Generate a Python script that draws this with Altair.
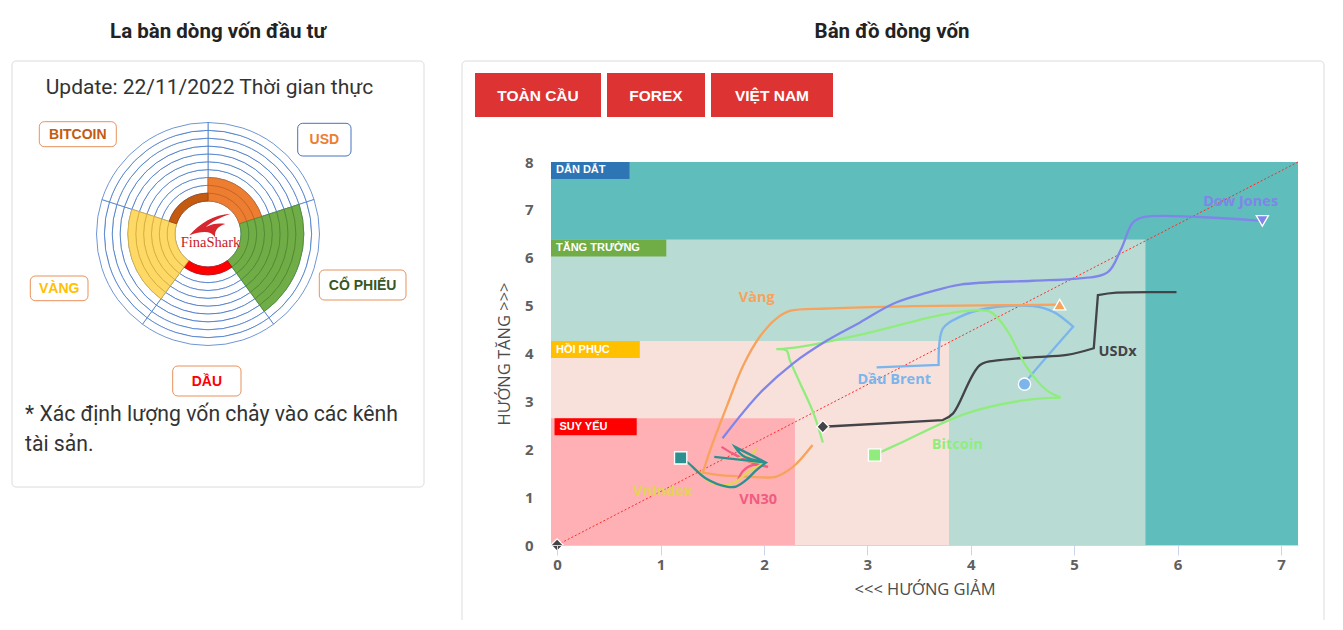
import math
import altair as alt
import pandas as pd

# ================= DATA =================
# Compass (la bàn dòng vốn)
sectors = ["USD", "CỔ PHIẾU", "DẦU", "VÀNG", "BITCOIN"]
sector_levels = [3, 8, 1, 6, 1]
ring_count = 10

# Zones of the capital-flow map
zone_names = ["DẪN DẮT", "TĂNG TRƯỞNG", "HỒI PHỤC", "SUY YẾU"]
zone_right = [7.165, 5.69, 3.79, 2.30]
zone_top = [8.0, 6.38, 4.26, 2.645]
zone_tag_left = [-0.059, -0.059, -0.059, -0.025]
zone_tag_right = [0.70, 1.056, 0.80, 0.77]

# Series (x = hướng giảm, y = hướng tăng)
series_names = ["Dầu Brent", "USDx", "Bitcoin", "Vàng", "Dow Jones", "VN30", "Vnindex", "Midcap"]
brent_x = [3.09, 3.69, 3.69, 3.73, 3.90, 4.15, 4.60, 4.80, 4.99, 4.99, 4.57, 4.52]
brent_y = [3.71, 3.76, 3.76, 4.52, 4.77, 4.94, 4.99, 4.87, 4.56, 4.56, 3.51, 3.36]
usd_x = [5.99, 5.41, 5.23, 5.23, 5.19, 5.19, 4.93, 4.60, 4.28, 4.09, 3.83, 3.73, 3.73, 2.57]
usd_y = [5.28, 5.27, 5.22, 5.22, 4.11, 4.11, 3.97, 3.92, 3.86, 3.76, 2.75, 2.61, 2.61, 2.47]
btc_x = [2.57, 2.48, 2.35, 2.25, 2.22, 2.12, 2.12, 2.35, 2.99, 3.64, 3.96, 4.19, 4.35, 4.54, 4.73, 4.87, 4.87, 4.54, 3.96, 3.31, 3.07]
btc_y = [2.14, 2.75, 3.38, 3.86, 4.06, 4.09, 4.09, 4.14, 4.42, 4.77, 4.89, 4.87, 4.49, 3.72, 3.24, 3.08, 3.08, 3.03, 2.75, 2.12, 1.88]
gold_x = [2.47, 2.28, 2.12, 1.83, 1.57, 1.41, 1.41, 1.48, 1.64, 1.80, 1.96, 2.12, 2.25, 2.61, 3.25, 3.90, 4.86]
gold_y = [2.09, 1.63, 1.43, 1.43, 1.46, 1.51, 1.51, 1.98, 2.89, 3.75, 4.35, 4.73, 4.89, 4.94, 4.98, 5.00, 5.02]
dow_x = [1.60, 1.96, 2.28, 2.61, 2.93, 3.25, 3.58, 3.90, 4.60, 4.99, 5.32, 5.45, 5.57, 5.67, 6.82]
dow_y = [2.23, 3.17, 3.79, 4.27, 4.65, 5.04, 5.27, 5.44, 5.52, 5.56, 5.69, 6.16, 6.74, 6.85, 6.77]
vn30_x = [1.59, 1.70, 1.86, 2.04, 2.04, 1.89, 1.80, 1.75]
vn30_y = [2.05, 1.91, 1.74, 1.63, 1.63, 1.67, 1.55, 1.36]
vni_x = [1.35, 1.475, 1.60, 1.73, 1.83, 1.93, 2.02, 2.02, 1.75, 1.88, 1.93]
vni_y = [1.57, 1.32, 1.25, 1.32, 1.50, 1.63, 1.72, 1.72, 1.80, 1.90, 2.02]
mid_x = [1.52, 2.02, 2.02, 1.80, 1.72, 1.72, 2.02, 2.02, 1.93, 1.83, 1.73, 1.64, 1.44, 1.27, 1.195]
mid_y = [1.84, 1.72, 1.72, 1.86, 2.05, 2.05, 1.72, 1.72, 1.57, 1.36, 1.22, 1.22, 1.39, 1.71, 1.82]

marker_series = ["Dow Jones", "Vàng", "Bitcoin", "Dầu Brent", "USDx", "Midcap"]
origin_x = [0.0]
origin_y = [0.0]

label_series = ["Dow Jones", "Vàng", "Dầu Brent", "USDx", "Bitcoin", "Vnindex", "VN30"]
label_x = [6.61, 1.93, 3.26, 5.42, 3.87, 1.02, 1.945]
label_y = [7.16, 5.16, 3.44, 4.035, 2.09, 1.10, 0.94]

button_labels = ["TOÀN CẦU", "FOREX", "VIỆT NAM"]

# ================= STYLE / LAYOUT =================
series_colors = ["#7cb5ec", "#434348", "#90ed7d", "#f7a35c", "#8085e9", "#f15c80", "#e4d354", "#2b908f"]
marker_shapes = ["triangle-down", "triangle-up", "square", "circle", "diamond", "square"]
zone_colors = ["#5fbdbb", "#b8dcd4", "#f8e1da", "#ffb0b5"]
tag_colors = ["#2e75b6", "#70ad47", "#ffc000", "#ff0000"]
sector_fill = ["#ed7d31", "#70ad47", "#ff0000", "#ffd966", "#c55a11"]
sector_edge = ["#c9631c", "#4f8a30", "#d40000", "#d6ad3c", "#9e4409"]

OX, OY = 551, 162          # page position of plot origin
W, H = 747, 383
XMIN, XMAX = -0.059, 7.165
TAG_H = 17 / 47.9

def px(v):
    return alt.value(v - OX)

def py(v):
    return alt.value(v - OY)

one = pd.DataFrame({"k": [0]})
layers = []

def text_at(text, x, y, size, color, weight="normal", font="Roboto", align="center"):
    return alt.Chart(one).mark_text(
        text=text, fontSize=size, fontWeight=weight, color=color, font=font,
        align=align, baseline="middle").encode(x=px(x), y=py(y))

def box(x1, y1, x2, y2, fill="white", stroke=None, radius=0, sw=1):
    kw = dict(fill=fill, cornerRadius=radius)
    if stroke is not None:
        kw.update(stroke=stroke, strokeWidth=sw)
    return alt.Chart(one).mark_rect(**kw).encode(x=px(x1), x2=px(x2), y=py(y1), y2=py(y2))

# ---- cards & titles
layers.append(box(12, 61, 424, 487, stroke="#dcdcdc", radius=4))
layers.append(box(462, 61, 1324, 700, stroke="#dcdcdc", radius=4))
layers.append(text_at("La bàn dòng vốn đầu tư", 218, 32, 20.5, "#222222", "bold"))
layers.append(text_at("Bản đồ dòng vốn", 892, 32, 20.5, "#222222", "bold"))

# ---- buttons
button_pos = [(475, 601), (607, 705), (711, 833)]
for lab, (b1, b2) in zip(button_labels, button_pos):
    layers.append(box(b1, 73, b2, 117, fill="#dd3333"))
    layers.append(text_at(lab, (b1 + b2) / 2, 95.5, 15.5, "white", "bold", font="Liberation Sans"))

# ---- left card texts
layers.append(text_at("Update: 22/11/2022 Thời gian thực", 209.5, 88, 21, "#333333"))
layers.append(text_at("* Xác định lượng vốn chảy vào các kênh", 25, 415, 21.2, "#333333", align="left"))
layers.append(text_at("tài sản.", 25, 445, 21.2, "#333333", align="left"))

# ---- compass
rows = []
for s, name in enumerate(sectors):
    for k in range(ring_count):
        rows.append({"sector": name, "t0": s, "t1": s + 1, "r0": k, "r1": k + 1,
                     "filled": k < sector_levels[s]})
cells = pd.DataFrame(rows)
theta_sc = alt.Scale(domain=[0, len(sectors)], range=[0, 2 * math.pi])
rad_sc = alt.Scale(type="linear", domain=[0, ring_count], range=[33, 111.5], zero=False)
CX, CY = 208, 234

def arc_enc():
    return dict(theta=alt.Theta("t0:Q", stack=False, scale=theta_sc),
                theta2=alt.Theta2("t1"),
                radius=alt.Radius("r0:Q", scale=rad_sc),
                radius2=alt.Radius2("r1"),
                x=px(CX), y=py(CY))

layers.append(alt.Chart(cells).mark_arc(fill="white", stroke="#4a7bc8", strokeWidth=0.8).encode(**arc_enc()))
layers.append(alt.Chart(cells[cells["filled"]]).mark_arc(strokeWidth=0.8).encode(
    fill=alt.Fill("sector:N", scale=alt.Scale(domain=sectors, range=sector_fill), legend=None),
    stroke=alt.Stroke("sector:N", scale=alt.Scale(domain=sectors, range=sector_edge), legend=None),
    **arc_enc()))

# logo
swoosh = ("M -1 0.45 C -0.5 -0.15 0.2 -0.55 1 -0.6 C 0.45 -0.4 0.05 -0.2 -0.2 0.05 "
          "C 0.1 -0.1 0.4 -0.15 0.75 -0.1 C 0.4 0 0.2 0.2 0.25 0.55 C 0.05 0.25 -0.3 0.2 -1 0.45 Z")
layers.append(alt.Chart(one).mark_point(shape=swoosh, filled=True, color="#d7262e", opacity=1,
                                        size=1700).encode(x=px(210), y=py(226)))
layers.append(text_at("FinaShark", 210.5, 243, 14.5, "#c8202a", font="Liberation Serif"))

# compass label boxes
comp_boxes = [(297.7, 123.3, 351, 156), (319.3, 270, 406, 300), (172.7, 366, 241, 396),
              (30.3, 276, 88, 300.7), (39.3, 121.7, 116.3, 146.7)]
comp_border = ["#4472c4", "#e8915a", "#e8915a", "#e8915a", "#e8915a"]
comp_text = ["#ed7d31", "#375623", "#ff0000", "#ffc000", "#c55a11"]
for name, (a, b, c, d), bc, tc in zip(sectors, comp_boxes, comp_border, comp_text):
    layers.append(box(a, b, c, d, stroke=bc, radius=5))
    layers.append(text_at(name, (a + c) / 2, (b + d) / 2 + 0.5, 14, tc, "bold", font="Liberation Sans"))

# ---- main plot
xscale = alt.Scale(domain=[XMIN, XMAX], nice=False, zero=False)
yscale = alt.Scale(domain=[0, 8], nice=False, zero=False)
xaxis = alt.Axis(values=list(range(8)), format="d", title="<<< HƯỚNG GIẢM", grid=False,
                 domainColor="#ccd6eb", tickColor="#ccd6eb", tickSize=10,
                 labelFont="Open Sans", labelFontSize=15, labelFontWeight="bold", labelColor="#606060",
                 labelPadding=2, titleFont="Open Sans", titleFontSize=16.5, titleFontWeight="normal",
                 titleColor="#4d4d4d", titlePadding=9, zindex=1)
yaxis = alt.Axis(values=list(range(9)), format="d", title="HƯỚNG TĂNG >>>", grid=False,
                 domain=False, ticks=False, labelPadding=18,
                 labelFont="Open Sans", labelFontSize=15, labelFontWeight="bold", labelColor="#606060",
                 titleFont="Open Sans", titleFontSize=16.5, titleFontWeight="normal",
                 titleColor="#4d4d4d", titlePadding=12, zindex=1)

def X(f):
    return alt.X(f, type="quantitative", scale=xscale, axis=xaxis)

def Y(f):
    return alt.Y(f, type="quantitative", scale=yscale, axis=yaxis)

for i, zname in enumerate(zone_names):
    zdf = pd.DataFrame({"x": [XMIN], "x2": [zone_right[i]], "y": [0.0], "y2": [zone_top[i]]})
    layers.append(alt.Chart(zdf).mark_rect(color=zone_colors[i]).encode(
        x=X("x"), x2="x2", y=Y("y"), y2="y2"))

for i, zname in enumerate(zone_names):
    tdf = pd.DataFrame({"x": [zone_tag_left[i]], "x2": [zone_tag_right[i]],
                        "y": [zone_top[i] - TAG_H], "y2": [zone_top[i]],
                        "ym": [zone_top[i] - TAG_H / 2], "name": [zname]})
    layers.append(alt.Chart(tdf).mark_rect(color=tag_colors[i]).encode(
        x=X("x"), x2="x2", y=Y("y"), y2="y2"))
    layers.append(alt.Chart(tdf).mark_text(align="left", baseline="middle", dx=5, fontSize=11,
                                           fontWeight="bold", color="white", font="Liberation Sans").encode(
        x=X("x"), y=Y("ym"), text="name:N"))

diag = pd.DataFrame({"x": [0.0, XMAX], "y": [0.0, 8.0]})
layers.append(alt.Chart(diag).mark_line(color="#ff2a2a", strokeDash=[2, 2], strokeWidth=1).encode(
    x=X("x"), y=Y("y")))

series_xy = {
    "Dầu Brent": (brent_x, brent_y), "USDx": (usd_x, usd_y), "Bitcoin": (btc_x, btc_y),
    "Vàng": (gold_x, gold_y), "Dow Jones": (dow_x, dow_y), "VN30": (vn30_x, vn30_y),
    "Vnindex": (vni_x, vni_y), "Midcap": (mid_x, mid_y),
}
lrows = []
for name in series_names:
    xs, ys = series_xy[name]
    for i, (a, b) in enumerate(zip(xs, ys)):
        lrows.append({"series": name, "i": i, "x": a, "y": b})
lines = pd.DataFrame(lrows)
color_enc = alt.Color("series:N", scale=alt.Scale(domain=series_names, range=series_colors), legend=None)

layers.append(alt.Chart(lines).mark_line(interpolate="catmull-rom", strokeWidth=2.3).encode(
    x=X("x"), y=Y("y"), color=color_enc, order=alt.Order("i:Q"), detail="series:N"))

mrows = []
for name in marker_series:
    xs, ys = series_xy[name]
    mrows.append({"series": name, "x": xs[-1], "y": ys[-1]})
markers = pd.DataFrame(mrows)
layers.append(alt.Chart(markers).mark_point(filled=True, stroke="white", strokeWidth=1.3,
                                            opacity=1, size=150).encode(
    x=X("x"), y=Y("y"), color=color_enc,
    shape=alt.Shape("series:N", scale=alt.Scale(domain=marker_series, range=marker_shapes), legend=None)))

odf = pd.DataFrame({"x": origin_x, "y": origin_y})
layers.append(alt.Chart(odf).mark_point(shape="diamond", filled=True, color="#434348", stroke="white",
                                        strokeWidth=1.3, opacity=1, size=150).encode(x=X("x"), y=Y("y")))

labels = pd.DataFrame({"series": label_series, "x": label_x, "y": label_y})
layers.append(alt.Chart(labels).mark_text(fontSize=14.5, fontWeight="bold", font="Open Sans",
                                          baseline="middle").encode(
    x=X("x"), y=Y("y"), text="series:N", color=color_enc))

chart = alt.layer(*layers).properties(
    width=W, height=H,
    autosize=alt.AutoSizeParams(type="none"),
    padding={"left": OX - 8, "top": OY - 8, "right": 35, "bottom": 75},
).configure_view(stroke=None).configure(background="white")

chart.save("out.html", embed_options={"renderer": "svg", "actions": False})
